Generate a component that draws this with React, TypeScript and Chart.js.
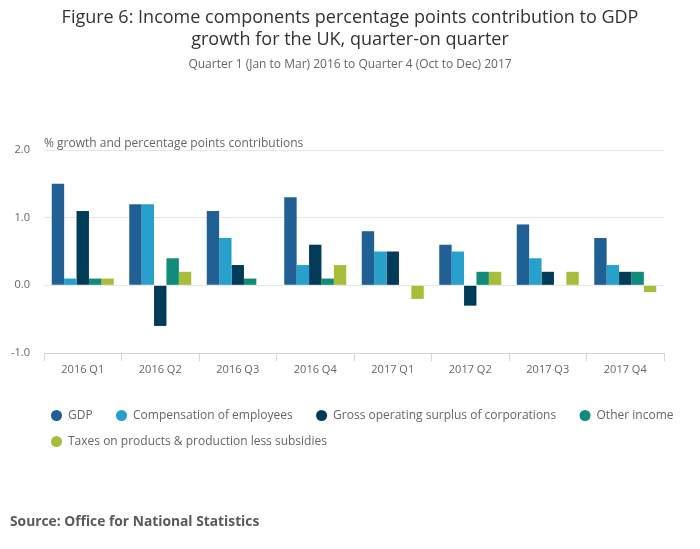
import React, { useEffect, useRef } from 'react';
import Chart from 'chart.js/auto';

const quarters = ['2016 Q1', '2016 Q2', '2016 Q3', '2016 Q4', '2017 Q1', '2017 Q2', '2017 Q3', '2017 Q4'];

const gdp = [1.5, 1.2, 1.1, 1.3, 0.8, 0.6, 0.9, 0.7];
const compensation = [0.1, 1.2, 0.7, 0.3, 0.5, 0.5, 0.4, 0.3];
const grossOperating = [1.1, -0.6, 0.3, 0.6, 0.5, -0.3, 0.2, 0.2];
const otherIncome = [0.1, 0.4, 0.1, 0.1, 0, 0.2, 0, 0.2];
const taxes = [0.1, 0.2, 0, 0.3, -0.2, 0.2, 0.2, -0.1];

const seriesNames = [
    'GDP',
    'Compensation of employees',
    'Gross operating surplus of corporations',
    'Other income',
    'Taxes on products & production less subsidies'
];
const seriesColors = ['#206095', '#27a0cc', '#003c57', '#118c7b', '#a8bd3a'];

const titleLines = [
    'Figure 6: Income components percentage points contribution to GDP',
    'growth for the UK, quarter-on quarter'
];
const subtitle = 'Quarter 1 (Jan to Mar) 2016 to Quarter 4 (Oct to Dec) 2017';
const yCaption = '% growth and percentage points contributions';
const source = 'Source: Office for National Statistics';

const FONT = "'Open Sans', sans-serif";

// titles, axis caption and source line drawn straight onto the canvas
const captionsPlugin = {
    id: 'captions',
    afterDraw(chart: Chart) {
        const { ctx, chartArea } = chart;
        ctx.save();
        ctx.textBaseline = 'middle';
        ctx.textAlign = 'center';
        ctx.fillStyle = '#333333';
        ctx.font = `18px ${FONT}`;
        ctx.fillText(titleLines[0], 350, 18);
        ctx.fillText(titleLines[1], 350, 40);
        ctx.fillStyle = '#666666';
        ctx.font = `12px ${FONT}`;
        ctx.fillText(subtitle, 350, 64.5);
        ctx.textAlign = 'left';
        ctx.fillText(yCaption, chartArea.left, chartArea.top - 6);
        ctx.fillStyle = '#5a5a5a';
        ctx.font = `bold 13.8px ${FONT}`;
        ctx.fillText(source, 10, 522);
        ctx.restore();
    }
};

const App: React.FC = () => {
    const canvasRef = useRef<HTMLCanvasElement>(null);
    const chartRef = useRef<Chart>();

    useEffect(() => {
        if (!canvasRef.current) return;
        if (chartRef.current) {
            chartRef.current.destroy();
        }

        const values = [gdp, compensation, grossOperating, otherIncome, taxes];

        chartRef.current = new Chart(canvasRef.current, {
            type: 'bar',
            data: {
                labels: quarters,
                datasets: values.map((data, i) => ({
                    label: seriesNames[i],
                    data,
                    backgroundColor: seriesColors[i],
                    borderWidth: 0,
                    categoryPercentage: 0.8,
                    barPercentage: 1
                }))
            },
            options: {
                responsive: false,
                animation: false,
                layout: {
                    padding: { left: 37, right: 0, top: 150, bottom: 91.5 }
                },
                plugins: {
                    title: { display: false },
                    tooltip: { enabled: false },
                    legend: {
                        position: 'bottom',
                        align: 'start',
                        labels: {
                            usePointStyle: true,
                            pointStyle: 'circle',
                            boxWidth: 11,
                            boxHeight: 7.8,
                            padding: 14,
                            color: '#666666',
                            font: { family: FONT, size: 12 },
                            // a little extra room after the items that share the first row
                            generateLabels: (chart: Chart) =>
                                Chart.defaults.plugins.legend.labels.generateLabels(chart).map((item, i) => ({
                                    ...item,
                                    text: i < 3 ? item.text + '   ' : item.text
                                }))
                        }
                    }
                },
                scales: {
                    x: {
                        grid: {
                            offset: true,
                            drawOnChartArea: false,
                            drawTicks: true,
                            tickLength: 8,
                            color: '#ccd6eb'
                        },
                        border: { display: true, color: '#ccd6eb' },
                        ticks: {
                            color: '#666666',
                            font: { family: FONT, size: 11 },
                            padding: 2
                        },
                        afterFit: (scale: any) => {
                            scale.width = scale.width;
                            scale.height = 42.5;
                        }
                    },
                    y: {
                        min: -1,
                        max: 2,
                        ticks: {
                            stepSize: 1,
                            // mirrored so the labels are not clipped to the narrow axis box
                            mirror: true,
                            crossAlign: 'far',
                            padding: -33,
                            color: '#666666',
                            font: { family: FONT, size: 11 },
                            callback: (value: string | number) => Number(value).toFixed(1)
                        },
                        grid: {
                            drawTicks: false,
                            color: (c: any) => (c.tick && c.tick.value === -1 ? 'rgba(0,0,0,0)' : '#e6e6e6')
                        },
                        border: { display: false },
                        afterFit: (scale: any) => {
                            scale.width = 7;
                        }
                    },
                    // empty right-hand axis, only keeps the plot clear of the right edge
                    spacer: {
                        type: 'linear',
                        position: 'right',
                        grid: { display: false },
                        border: { display: false },
                        ticks: { display: false },
                        afterFit: (scale: any) => {
                            scale.width = 36;
                        }
                    }
                }
            },
            plugins: [captionsPlugin]
        });

        return () => {
            if (chartRef.current) {
                chartRef.current.destroy();
                chartRef.current = undefined;
            }
        };
    }, []);

    return (
        <div style={{ position: 'absolute', left: 0, top: 0, width: 700, height: 549, background: '#ffffff' }}>
            <canvas ref={canvasRef} width={700} height={549} style={{ width: 700, height: 549 }}></canvas>
        </div>
    );
};

export default App;
